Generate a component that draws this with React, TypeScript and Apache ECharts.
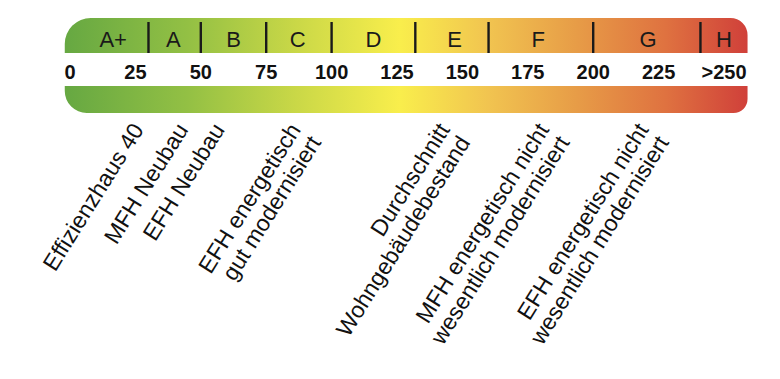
import React, { useEffect, useRef } from 'react';
import * as echarts from 'echarts';

// Scale (kWh/(m²·a)) tick values and their printed labels
const scaleTicks = [0, 25, 50, 75, 100, 125, 150, 175, 200, 225, 250];
const scaleTickLabels = ['0', '25', '50', '75', '100', '125', '150', '175', '200', '225', '>250'];

// Efficiency classes: label, centre of the label, class boundaries
const classNames = ['A+', 'A', 'B', 'C', 'D', 'E', 'F', 'G', 'H'];
const classCenters = [16.5, 39.5, 62.5, 87, 116, 147, 179, 221, 250];
const classBoundaries = [30, 50, 75, 100, 132, 160, 200, 241];

// Extent of the coloured scale
const scaleRange = [-2, 259];

// Reference buildings and where they sit on the scale
const buildingTypes = [
  'Effizienzhaus 40',
  'MFH Neubau',
  'EFH Neubau',
  'EFH energetisch\ngut modernisiert',
  'Durchschnitt\nWohngebäudebestand',
  'MFH energetisch nicht\nwesentlich modernisiert',
  'EFH energetisch nicht\nwesentlich modernisiert',
];
const buildingValues = [22, 39, 53, 82, 139, 177, 215];

const FONT = '"Liberation Sans", Arial, Helvetica, sans-serif';

export default function App() {
  const ref = useRef<HTMLDivElement>(null);

  useEffect(() => {
    if (!ref.current) return;
    const chart = echarts.init(ref.current, undefined, { renderer: 'svg' });

    const gradient = () =>
      new echarts.graphic.LinearGradient(0, 0, 1, 0, [
        { offset: 0, color: '#66a842' },
        { offset: 0.18, color: '#93c044' },
        { offset: 0.34, color: '#cad847' },
        { offset: 0.49, color: '#f9ee4c' },
        { offset: 0.62, color: '#f1c450' },
        { offset: 0.75, color: '#e79c47' },
        { offset: 0.88, color: '#df7240' },
        { offset: 1, color: '#d0403a' },
      ]);

    const option: any = {
      animation: false,
      grid: { left: 70, right: 56, top: 0, bottom: 0 },
      xAxis: { type: 'value', min: 0, max: 250, show: false },
      yAxis: { type: 'value', min: 0, max: 379, inverse: true, show: false },
      series: [
        {
          type: 'custom',
          coordinateSystem: 'cartesian2d',
          encode: { x: [0, 1] },
          data: [[scaleRange[0], scaleRange[1]]],
          renderItem: (params: any, api: any) => {
            const x0 = api.coord([api.value(0), 0])[0];
            const x1 = api.coord([api.value(1), 0])[0];
            return {
              type: 'group',
              children: [
                {
                  type: 'rect',
                  shape: { x: x0, y: 18, width: x1 - x0, height: 35, r: [26, 17, 0, 0] },
                  style: { fill: gradient() },
                },
                {
                  type: 'rect',
                  shape: { x: x0, y: 86, width: x1 - x0, height: 27, r: [0, 0, 14, 22] },
                  style: { fill: gradient() },
                },
              ],
            };
          },
        },
        {
          type: 'custom',
          coordinateSystem: 'cartesian2d',
          encode: { x: 0 },
          data: classBoundaries.map((v) => [v]),
          renderItem: (params: any, api: any) => {
            const x = api.coord([api.value(0), 0])[0];
            return {
              type: 'line',
              shape: { x1: x, y1: 22, x2: x, y2: 53 },
              style: { stroke: '#1a1a1a', lineWidth: 2.4 },
            };
          },
        },
        {
          type: 'custom',
          coordinateSystem: 'cartesian2d',
          encode: { x: 0 },
          data: classCenters.map((v) => [v]),
          renderItem: (params: any, api: any) => {
            const x = api.coord([api.value(0), 0])[0];
            return {
              type: 'text',
              x,
              y: 39,
              style: {
                text: classNames[params.dataIndex],
                fill: '#1a1a1a',
                fontSize: 22,
                fontFamily: FONT,
                align: 'center',
                verticalAlign: 'middle',
              },
            };
          },
        },
        {
          type: 'custom',
          coordinateSystem: 'cartesian2d',
          encode: { x: 0 },
          data: scaleTicks.map((v) => [v]),
          renderItem: (params: any, api: any) => {
            const x = api.coord([api.value(0), 0])[0];
            return {
              type: 'text',
              x,
              y: 72,
              style: {
                text: scaleTickLabels[params.dataIndex],
                fill: '#111',
                fontSize: 20,
                fontWeight: 'bold',
                fontFamily: FONT,
                align: 'center',
                verticalAlign: 'middle',
              },
            };
          },
        },
        {
          type: 'custom',
          coordinateSystem: 'cartesian2d',
          encode: { x: 0 },
          data: buildingValues.map((v) => [v]),
          renderItem: (params: any, api: any) => {
            const x = api.coord([api.value(0), 0])[0];
            return {
              type: 'text',
              x,
              y: 119,
              rotation: (58 * Math.PI) / 180,
              style: {
                text: buildingTypes[params.dataIndex],
                fill: '#111',
                fontSize: 23,
                lineHeight: 24,
                fontFamily: FONT,
                align: 'right',
                verticalAlign: 'top',
              },
            };
          },
        },
      ],
    };

    chart.setOption(option);
    return () => chart.dispose();
  }, []);

  return (
    <div
      ref={ref}
      style={{ position: 'fixed', left: 0, top: 0, width: 780, height: 379, background: '#fff' }}
    />
  );
}
